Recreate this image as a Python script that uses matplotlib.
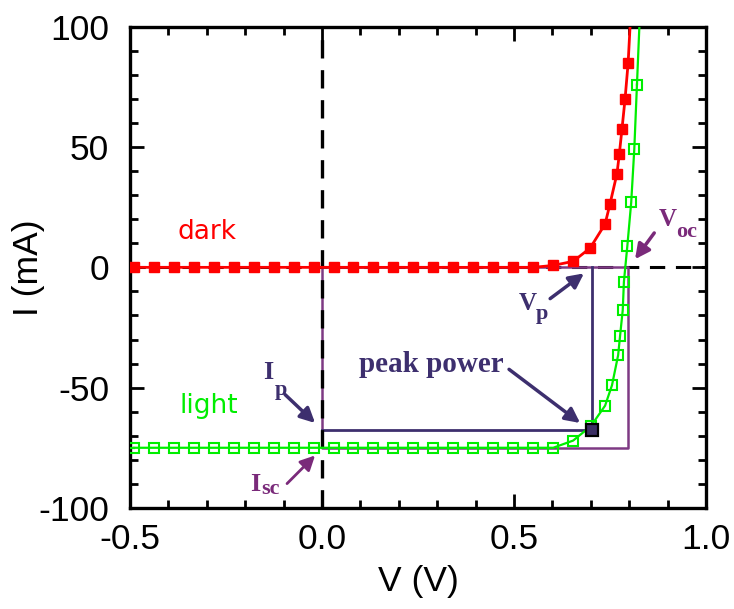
import numpy as np
import matplotlib.pyplot as plt
from matplotlib.ticker import MultipleLocator

plt.rcParams['axes.unicode_minus'] = False

# dark I-V curve (filled red squares)
dark_v = [-0.49, -0.438, -0.386, -0.334, -0.282, -0.23, -0.178, -0.126, -0.074, -0.022,
          0.03, 0.082, 0.134, 0.186, 0.238, 0.29, 0.342, 0.394, 0.446, 0.498, 0.55,
          0.602, 0.654, 0.698, 0.737, 0.75, 0.768, 0.774, 0.781, 0.789, 0.797]
dark_i = [0, 0, 0, 0, 0, 0, 0, 0, 0, 0,
          0, 0, 0, 0, 0, 0, 0, 0, 0, 0, 0,
          0.8, 2.5, 8, 18, 26.5, 39, 47, 57.5, 70, 85]
dark_tail_v = [0.797, 0.803]
dark_tail_i = [85, 103]

# illuminated I-V curve (open green squares)
light_v = [-0.49, -0.438, -0.386, -0.334, -0.282, -0.23, -0.178, -0.126, -0.074, -0.022,
           0.03, 0.082, 0.134, 0.186, 0.238, 0.29, 0.342, 0.394, 0.446, 0.498, 0.55,
           0.602, 0.654, 0.70, 0.737, 0.755, 0.771, 0.776, 0.783, 0.786, 0.795,
           0.805, 0.813, 0.82]
light_i = [-75, -75, -75, -75, -75, -75, -75, -75, -75, -75,
           -75, -75, -75, -75, -75, -75, -75, -75, -75, -75, -75,
           -75, -72, -66, -57.5, -49, -36.5, -28.5, -17.7, -6, 9,
           27, 49, 76]
light_tail_v = [-0.5, -0.49]
light_tail_i = [-75, -75]
light_top_v = [0.82, 0.827]
light_top_i = [76, 103]

# characteristic points
v_oc, i_sc = 0.797, -75
v_p, i_p = 0.703, -67.5

navy = '#3d2f6e'
purple = '#7a2a7a'
box_purple = '#7e3a84'

fig = plt.figure(figsize=(7.34, 6.09), dpi=100)
ax = fig.add_axes([0.177, 0.166, 0.785, 0.79])

ax.axhline(0, color='black', lw=2.2, ls=(0, (5, 3.5)), zorder=1)

# Voc x Isc rectangle
ax.plot([0, v_oc, v_oc, 0, 0], [0, 0, i_sc, i_sc, 0], color=box_purple, lw=1.8, zorder=2)
# peak power rectangle
ax.plot([0, v_p, v_p], [i_p, i_p, 0], color=navy, lw=2.0, zorder=2)

ax.axvline(0, color='black', lw=2.4, ls=(0, (5.5, 3.5)), zorder=3)

ax.plot(dark_v, dark_i, color='#ff0000', lw=2, marker='s', ms=7.5,
        mfc='#ff0000', mec='#ff0000', zorder=4)
ax.plot(dark_tail_v, dark_tail_i, color='#ff0000', lw=2, zorder=4)

ax.plot(light_tail_v, light_tail_i, color='#00ee00', lw=1.6, zorder=4)
ax.plot(light_top_v, light_top_i, color='#00ee00', lw=1.6, zorder=4)
ax.plot(light_v, light_i, color='#00ee00', lw=1.6, marker='s', ms=6.5,
        mfc='none', mec='#00ee00', mew=1.5, zorder=4)

ax.plot([v_p], [i_p], marker='s', ms=8.5, mfc='#3b2f63', mec='black', mew=1.6,
        ls='none', zorder=6)

ax.set_xlim(-0.5, 1.0)
ax.set_ylim(-100, 100)
ax.xaxis.set_major_locator(MultipleLocator(0.5))
ax.xaxis.set_minor_locator(MultipleLocator(0.1))
ax.yaxis.set_major_locator(MultipleLocator(50))
ax.yaxis.set_minor_locator(MultipleLocator(10))
ax.set_xticks([-0.5, 0.0, 0.5, 1.0])
ax.set_xticklabels(['-0.5', '0.0', '0.5', '1.0'])

for s in ax.spines.values():
    s.set_linewidth(2.4)
ax.tick_params(which='both', direction='in', top=True, right=True, width=2)
ax.tick_params(which='major', length=10)
ax.tick_params(which='minor', length=5.5)
ax.tick_params(axis='x', which='major', pad=11)
ax.tick_params(axis='y', which='major', pad=15)
for lab in ax.get_xticklabels() + ax.get_yticklabels():
    lab.set_family('Liberation Sans')
    lab.set_fontsize(25.5)

ax.set_xlabel('V (V)', family='Liberation Sans', fontsize=25.5)
ax.set_ylabel('I (mA)', family='Liberation Sans', fontsize=25.5)
ax.xaxis.set_label_coords(0.5, -0.118)
ax.yaxis.set_label_coords(-0.148, 0.5)

ax.text(-0.375, 11.8, 'dark', color='#ff0000', fontsize=19, family='DejaVu Sans',
        va='baseline', ha='left')
ax.text(-0.37, -60.5, 'light', color='#00ee00', fontsize=19, family='DejaVu Sans',
        va='baseline', ha='left')

ax.text(0.096, -43.7, 'peak power', color=navy, fontsize=21, family='Liberation Serif',
        weight='bold', va='baseline', ha='left')


def sub_label(x, y, main, sub, color, size, subsize, dx, dy):
    t = ax.text(x, y, main, color=color, fontsize=size, family='Liberation Serif',
                weight='bold', va='baseline', ha='left')
    ax.annotate(sub, xy=(1, y), xycoords=(t, 'data'), xytext=(dx, -dy),
                textcoords='offset points', color=color, fontsize=subsize,
                family='Liberation Serif', weight='bold', va='baseline', ha='left')


sub_label(-0.154, -46.6, 'I', 'p', navy, 19, 16, 1.5, 11)
sub_label(-0.1875, -92.9, 'I', 'sc', purple, 19, 16, 1, 2)
sub_label(0.513, -17.6, 'V', 'p', navy, 18, 16, -1, 6.5)
sub_label(0.878, 17.2, 'V', 'oc', purple, 18, 16, -1, 8)


def arrow(start, tip, color, lw):
    ax.annotate('', xy=tip, xytext=start, zorder=7,
                arrowprops=dict(arrowstyle='-|>', color=color, lw=lw,
                                mutation_scale=22, shrinkA=0, shrinkB=0))


arrow((-0.096, -52.9), (-0.018, -64.7), navy, 2.5)
arrow((-0.091, -89.9), (-0.018, -78.2), purple, 2.0)
arrow((0.487, -42.4), (0.672, -64.7), navy, 2.5)
arrow((0.594, -13), (0.682, -2.5), navy, 2.5)
arrow((0.865, 14.3), (0.815, 3.4), purple, 2.5)

fig.savefig('out.png', dpi=100)
